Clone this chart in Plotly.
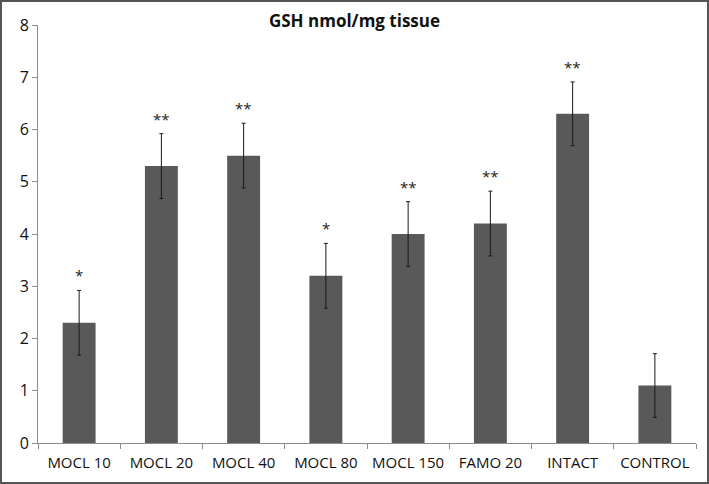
import plotly.graph_objects as go

categories = ["MOCL 10", "MOCL 20", "MOCL 40", "MOCL 80", "MOCL 150", "FAMO 20", "INTACT", "CONTROL"]
values = [2.3, 5.3, 5.5, 3.2, 4.0, 4.2, 6.3, 1.1]
errors = [0.62, 0.62, 0.62, 0.62, 0.62, 0.62, 0.61, 0.61]
marks = ["*", "**", "**", "*", "**", "**", "**", ""]
y_ticks = [0, 1, 2, 3, 4, 5, 6, 7, 8]

W, H = 709, 484
ML, MR, MT, MB = 38, 13, 25, 41
pw, ph = W - ML - MR, H - MT - MB

fig = go.Figure()
fig.add_trace(go.Bar(
    x=categories, y=values, width=0.4,
    marker=dict(color="#595959", line=dict(width=0)),
    error_y=dict(type="data", array=errors, visible=True,
                 color="#1a1a1a", thickness=1, width=2),
    hoverinfo="skip",
))

for c, v, e, m in zip(categories, values, errors, marks):
    if m:
        fig.add_annotation(x=c, y=v + e, text=m, showarrow=False,
                           yanchor="bottom", yshift=3,
                           font=dict(size=15, color="#222", family="Open Sans"))

fig.add_shape(type="rect", xref="paper", yref="paper",
              x0=(1 - ML) / pw, x1=(W - 1 - ML) / pw,
              y0=-(MB - 1) / ph, y1=1 + (MT - 1) / ph,
              line=dict(color="#555555", width=2), fillcolor="rgba(0,0,0,0)")

fig.update_layout(
    width=W, height=H,
    margin=dict(l=ML, r=MR, t=MT, b=MB),
    paper_bgcolor="white", plot_bgcolor="white",
    showlegend=False,
    font=dict(family="Open Sans", size=15, color="#111"),
    title=dict(text="<b>GSH nmol/mg tissue</b>", x=0.5, xref="container",
               xanchor="center", y=1 - 21 / H, yanchor="middle",
               font=dict(family="Open Sans", size=17, color="#111")),
    xaxis=dict(showline=True, linecolor="#8c8c8c", linewidth=1,
               ticks="outside", tickcolor="#8c8c8c", ticklen=5,
               tickson="boundaries", showgrid=False, automargin=False,
               ticklabelstandoff=6, tickfont=dict(size=15)),
    yaxis=dict(range=[0, 8], tickvals=y_ticks, showline=True,
               linecolor="#8c8c8c", linewidth=1, ticks="outside",
               tickcolor="#8c8c8c", ticklen=5, showgrid=False,
               zeroline=False, automargin=False, tickfont=dict(size=16)),
)

fig.write_html("out.html", config={"displayModeBar": False},
               post_script="document.body.style.margin='0';document.body.style.padding='0';")
